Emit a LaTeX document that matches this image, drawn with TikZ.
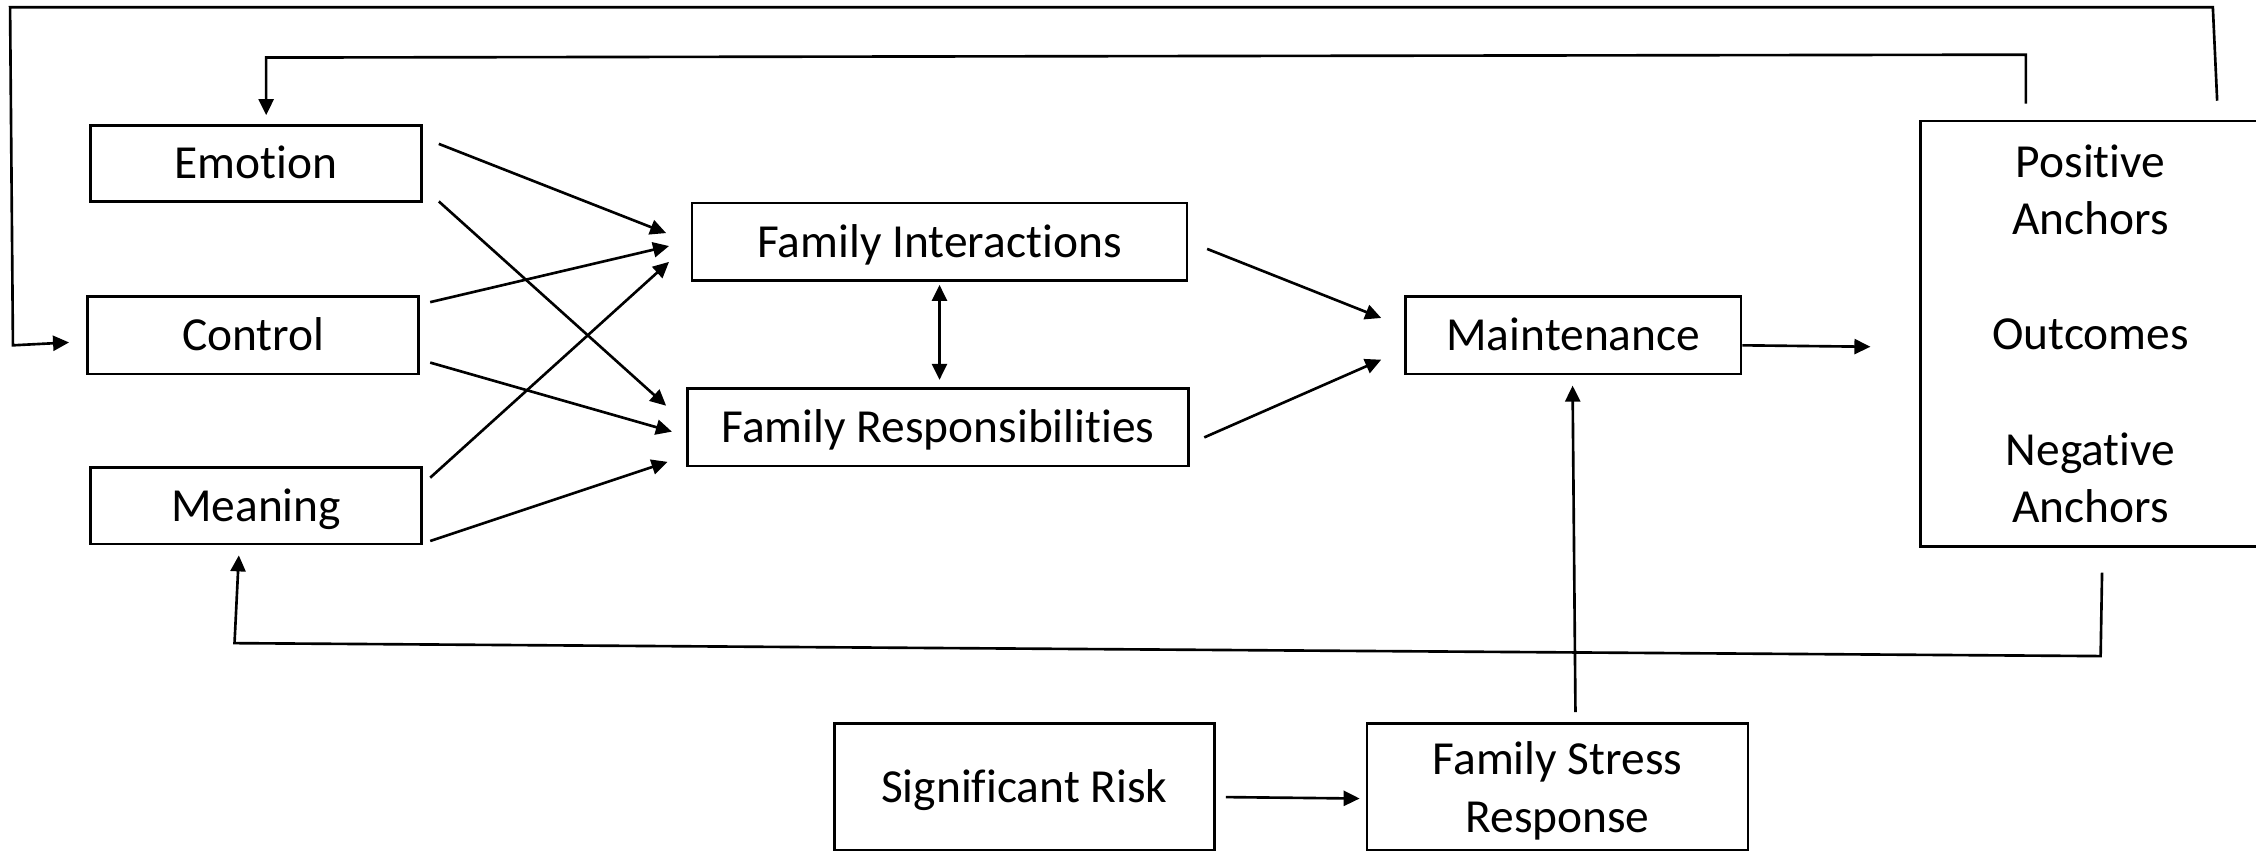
\documentclass[tikz,border=0pt]{standalone}
\usepackage{fontspec}
\setmainfont{Carlito}[Ligatures=NoCommon]
\usetikzlibrary{arrows.meta,fit}
\begin{document}
\begin{tikzpicture}[x=0.014388cm,y=-0.014388cm,
  font=\fontsize{13.5}{16.4}\selectfont,
  box/.style={draw, line width=0.75pt, inner sep=0pt},
  conn/.style={line width=0.75pt, -{Triangle[length=1.6mm,width=1.5mm]}},
  dbl/.style={line width=0.75pt, {Triangle[length=1.6mm,width=1.5mm]}-{Triangle[length=1.6mm,width=1.5mm]}},
  lbl/.style={align=center, text height=10.7pt, text depth=2pt, inner sep=0pt},
  lblm/.style={align=center, inner sep=0pt}
]
\useasboundingbox (0,0) rectangle (1568,591);

% boxes
\node[box, fit={(63,87)(293,140)}, label={[lbl]center:Emotion}] (emotion) {};
\node[box, fit={(61,206)(291,260)}, label={[lbl]center:Control}] (control) {};
\node[box, fit={(63,325)(293,378)}, label={[lbl]center:Meaning}] (meaning) {};
\node[box, fit={(481,141)(825,195)}, label={[lbl]center:Family Interactions}] (fi) {};
\node[box, fit={(478,270)(826,324)}, label={[lbl]center:Family Responsibilities}] (fr) {};
\node[box, fit={(977,206)(1210,260)}, label={[lbl]center:Maintenance}] (maint) {};
\node[box, fit={(1335,84)(1571,380)}, label={[lblm]center:Positive\\Anchors\\[16.4pt]Outcomes\\[16.4pt]Negative\\Anchors}] (outc) {};
\node[box, fit={(580,503)(844,591)}, label={[lbl]center:Significant Risk}] (risk) {};
\node[box, fit={(950,503)(1215,591)}, label={[lblm,yshift=-1pt]center:Family Stress\\Response}] (fsr) {};

% arrow end points
\coordinate (emoA) at (305,100);  \coordinate (fiA) at (463,162);
\coordinate (emoB) at (305,140);  \coordinate (frA) at (463,282);
\coordinate (conA) at (299,210);  \coordinate (fiB) at (465,171);
\coordinate (conB) at (299,252);  \coordinate (frB) at (467,300);
\coordinate (meaA) at (299,332);  \coordinate (fiC) at (465,182);
\coordinate (meaB) at (299,376);  \coordinate (frC) at (464,321);
\coordinate (fiD) at (653,198);   \coordinate (frD) at (653,264);
\coordinate (fiE) at (839,173);   \coordinate (maA) at (960,221);
\coordinate (frE) at (837,304);   \coordinate (maB) at (960,250);
\coordinate (maC) at (1211,240);  \coordinate (ocA) at (1300,241);
\coordinate (fsA) at (1095,495);  \coordinate (maD) at (1093,268);
\coordinate (rkA) at (852,554);   \coordinate (fsB) at (945,555);

\draw[conn] (emoA) -- (fiA);
\draw[conn] (emoB) -- (frA);
\draw[conn] (conA) -- (fiB);
\draw[conn] (conB) -- (frB);
\draw[conn] (meaA) -- (fiC);
\draw[conn] (meaB) -- (frC);
\draw[dbl]  (fiD) -- (frD);
\draw[conn] (fiE) -- (maA);
\draw[conn] (frE) -- (maB);
\draw[conn] (maC) -- (ocA);
\draw[conn] (fsA) -- (maD);
\draw[conn] (rkA) -- (fsB);

% feedback loops
\coordinate (ocT1) at (1541,70);  \coordinate (ctIn) at (48,238);
\coordinate (ocT2) at (1408,72);  \coordinate (emIn) at (185,80);
\coordinate (ocB)  at (1461,398); \coordinate (meIn) at (166,386);
\draw[conn] (ocT1) -- (1538,5) -- (7,5) -- (9,240) -- (ctIn);
\draw[conn] (ocT2) -- (1408,38) -- (185,40) -- (emIn);
\draw[conn] (ocB) -- (1460,456) -- (163,447) -- (meIn);
\end{tikzpicture}
\end{document}
